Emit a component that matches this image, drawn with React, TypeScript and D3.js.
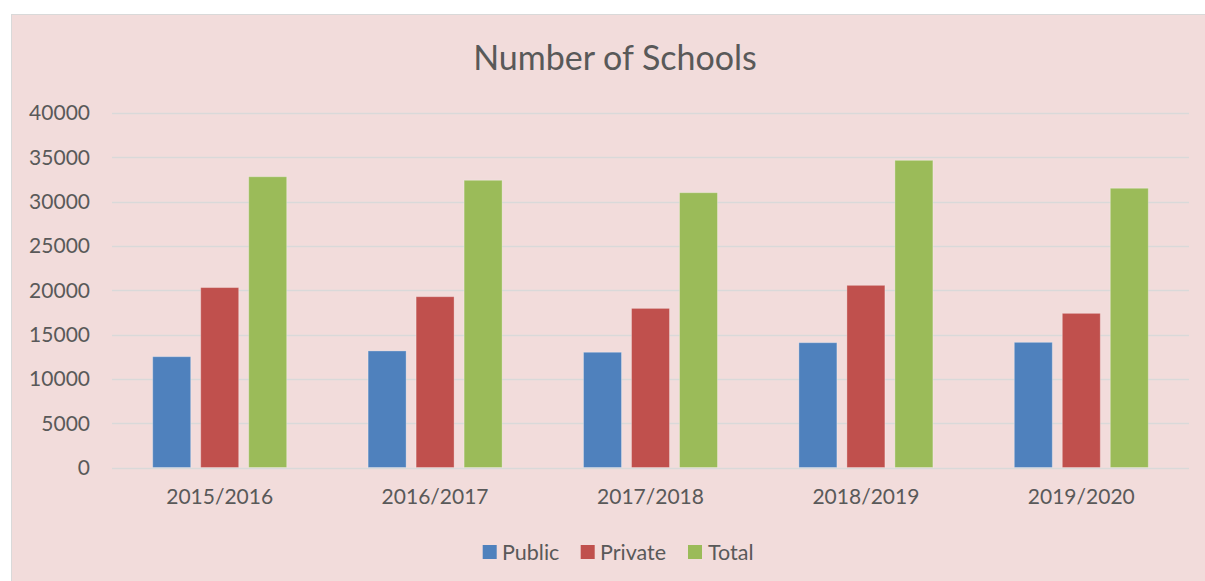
import React from "react";
import * as d3 from "d3";

const categories = ["2015/2016", "2016/2017", "2017/2018", "2018/2019", "2019/2020"];
const seriesNames = ["Public", "Private", "Total"];
const publicValues = [12500, 13150, 13000, 14080, 14120];
const privateValues = [20300, 19270, 17950, 20550, 17390];
const totalValues = [32800, 32400, 31000, 34650, 31500];
const yTicks = [0, 5000, 10000, 15000, 20000, 25000, 30000, 35000, 40000];
const colors = ["#4F81BD", "#C0504D", "#9BBB59"];

const W = 1205;
const H = 581;
const FONT = "Lato, 'Open Sans', sans-serif";
const TEXT = "#595959";

export default function App() {
  const seriesValues = [publicValues, privateValues, totalValues];
  const left = 112;
  const right = 1189;
  const top = 112.9;
  const bottom = 467.5;

  const x0 = d3.scaleBand<string>().domain(categories).range([left, right]).padding(0);
  const groupW = 134;
  const off = (x0.bandwidth() - groupW) / 2;
  const x1 = d3
    .scaleBand<string>()
    .domain(seriesNames)
    .range([off, off + groupW])
    .paddingInner(10 / 48)
    .paddingOuter(0);
  const y = d3.scaleLinear().domain([0, 40000]).range([bottom, top]);

  const legendItems = [
    { name: "Public", sx: 482.7, tx: 502 },
    { name: "Private", sx: 580.7, tx: 600 },
    { name: "Total", sx: 688, tx: 708 },
  ];

  return (
    <svg
      width={W}
      height={H}
      style={{ position: "absolute", left: 0, top: 0, display: "block" }}
    >
      <rect x={0} y={0} width={W} height={H} fill="#ffffff" />
      <rect x={11.5} y={14.5} width={W} height={H} fill="#F2DCDB" stroke="#D9D9D9" strokeWidth={1} />
      <text
        x={615}
        y={70}
        textAnchor="middle"
        fontFamily={FONT}
        fontSize={34}
        fill={TEXT}
      >
        Number of Schools
      </text>
      {yTicks.map((t) => (
        <g key={t}>
          <line
            x1={left}
            x2={right}
            y1={Math.round(y(t)) + 0.5}
            y2={Math.round(y(t)) + 0.5}
            stroke="#D9D9D9"
            strokeWidth={1.4}
          />
          <text
            x={90}
            y={y(t)}
            dy="0.35em"
            textAnchor="end"
            fontFamily={FONT}
            fontSize={21}
            fill={TEXT}
          >
            {t}
          </text>
        </g>
      ))}
      {categories.map((c, i) => (
        <g key={c} transform={`translate(${x0(c)},0)`}>
          {seriesNames.map((s, j) => (
            <rect
              key={s}
              x={x1(s)}
              y={y(seriesValues[j][i])}
              width={x1.bandwidth()}
              height={bottom - y(seriesValues[j][i])}
              fill={colors[j]}
              stroke="#ffffff"
              strokeOpacity={0.3}
              strokeWidth={1}
            />
          ))}
          <text
            x={x0.bandwidth() / 2}
            y={497}
            dy="0.35em"
            textAnchor="middle"
            fontFamily={FONT}
            fontSize={21}
            fill={TEXT}
          >
            {c}
          </text>
        </g>
      ))}
      {legendItems.map((l, i) => (
        <g key={l.name}>
          <rect x={l.sx} y={545} width={14} height={14} fill={colors[i]} />
          <text x={l.tx} y={552} dy="0.35em" fontFamily={FONT} fontSize={21.5} fill={TEXT}>
            {l.name}
          </text>
        </g>
      ))}
    </svg>
  );
}
